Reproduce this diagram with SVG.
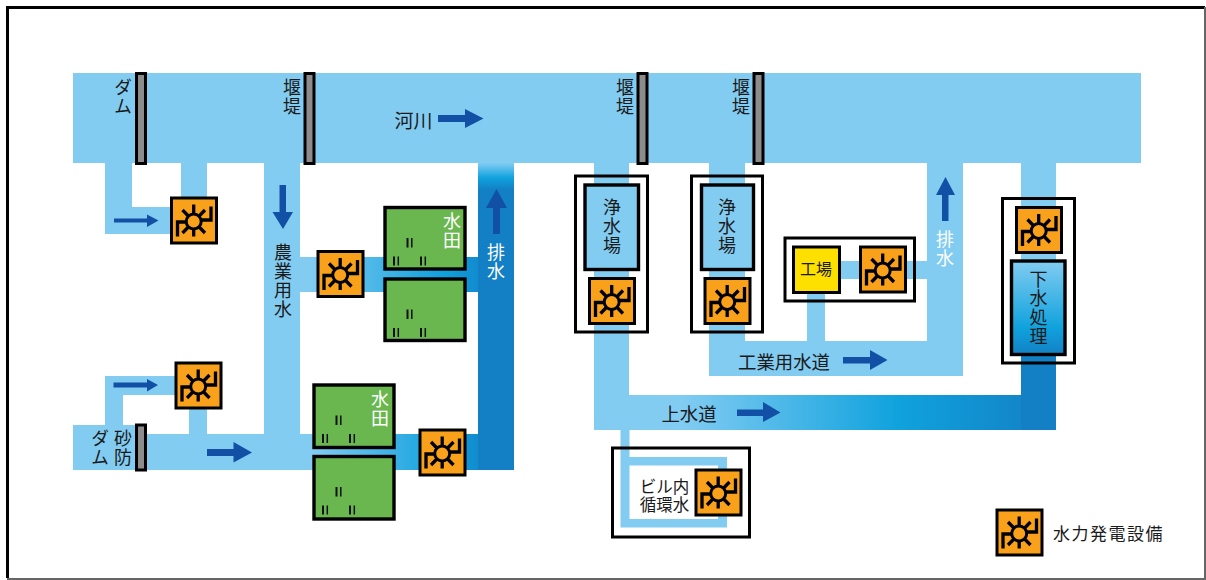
<svg xmlns="http://www.w3.org/2000/svg" width="1206" height="580" viewBox="0 0 1206 580">
<style>
.w{fill:#82ccf2}
.t{font-family:"Noto Sans CJK JP","Noto Sans",sans-serif;font-size:18px;fill:#1a1a1a;text-anchor:middle;dominant-baseline:central}
.v{font-family:"Noto Sans CJK JP","Noto Sans",sans-serif;font-size:18px;fill:#1a1a1a;writing-mode:vertical-rl;text-anchor:middle;letter-spacing:1px}
.wt{fill:#fff}
.a{fill:#1150a4}
.p{fill:#6ab750;stroke:#000;stroke-width:3.400}
.g{fill:#8c8c8c;stroke:#000;stroke-width:3}
</style>
<defs>
<linearGradient id="g1" gradientUnits="userSpaceOnUse" x1="300" y1="0" x2="500" y2="0"><stop offset=".05" stop-color="#82ccf2"/><stop offset=".72" stop-color="#10a0dd"/><stop offset="1" stop-color="#137fc4"/></linearGradient>
<linearGradient id="g2" gradientUnits="userSpaceOnUse" x1="0" y1="163" x2="0" y2="190"><stop offset="0" stop-color="#82ccf2"/><stop offset=".55" stop-color="#10a2dd"/><stop offset="1" stop-color="#137fc4"/></linearGradient>
<linearGradient id="g3" gradientUnits="userSpaceOnUse" x1="680" y1="0" x2="1056" y2="0"><stop offset="0" stop-color="#82ccf2"/><stop offset=".58" stop-color="#10a2dd"/><stop offset="1" stop-color="#137fc4"/></linearGradient>
<linearGradient id="g4" gradientUnits="userSpaceOnUse" x1="0" y1="261" x2="0" y2="356"><stop offset="0" stop-color="#82ccf2"/><stop offset=".7" stop-color="#10a2dd"/><stop offset="1" stop-color="#137fc4"/></linearGradient>
<symbol id="tb" viewBox="0 0 48 48" width="48" height="48" overflow="visible">
<rect x="1.500" y="1.500" width="45" height="45" fill="#f9a11b" stroke="#000" stroke-width="3"/>
<g stroke="#000" stroke-width="3.300" fill="none">
<path d="M23.700 8V40M12.500 13.500L35 36.500M35 13.500L12.500 36.500"/>
<path d="M7.500 40V25.500H16M41 10V23.500H31"/>
<circle cx="23.700" cy="25" r="7.500" fill="#f9a11b" stroke-width="3"/>
</g>
</symbol>
<g id="gr" fill="none" stroke="#111"><path d="M24 32.500V42M10.500 51V60M37.500 51V60" stroke-width="2"/><path d="M28.300 32.500V42M14.800 51V60M41.800 51V60" stroke-width="1.500"/></g>
</defs>
<rect width="1206" height="580" fill="#fff"/>
<path d="M7.500 578V7.500H1205" fill="none" stroke="#000" stroke-width="3"/>
<path d="M1205 7V579H7" fill="none" stroke="#666" stroke-width="2"/>

<g id="connectors">
<rect class="w" x="73" y="73" width="1068" height="90"/>
<path class="w" d="M105 163H132V207H181V163H207V200H180V234H105Z"/>
<rect class="w" x="264" y="163" width="36" height="307"/>
<path class="w" d="M105 425V376H180V395H123V425ZM189 405H207V440H189Z"/>
<path class="w" d="M73 425H140V434H300V470H73Z"/>
<rect x="300" y="257" width="178" height="35" fill="url(#g1)"/>
<rect x="300" y="434" width="178" height="36" fill="url(#g1)"/>
<rect x="478" y="163" width="36" height="307" fill="url(#g2)"/>
<rect class="w" x="594" y="163" width="35" height="240"/>
<rect x="594" y="395" width="462" height="35" fill="url(#g3)"/>
<rect class="w" x="1021" y="163" width="35" height="100"/>
<rect x="1021" y="356" width="35" height="74" fill="#137fc4"/>
<path class="w" d="M709 163H745V341H927V163H963V376H709Z"/>
<rect class="w" x="840" y="261" width="87" height="18"/>
<rect class="w" x="807" y="293" width="18" height="48"/>
<g id="arrows">
<path class="a" d="M114 218.500H147V214.500L158.500 220.500L147 227V222.500H114Z"/>
<path class="a" d="M113.500 382.500H147V379L158 385L147 391.500V387.500H113.500Z"/>
<path class="a" d="M207 449H233.500V442L252 452.500L233.500 462.500V456H207Z"/>
<path class="a" d="M279.500 185H286V212H293L283 229L272.500 212H279.500Z"/>
<path class="a" d="M493 234V208H486L496.500 189L507 208H500V234Z"/>
<path class="a" d="M942 221V195H936L945.500 177L955 195H948.500V221Z"/>
<path class="a" d="M438 115H465V109L483.500 118.500L465 128V122H438Z"/>
<path class="a" d="M843 357H870V350L887.500 360L870 370V363.500H843Z"/>
<path class="a" d="M737 409.500H763V402L780.500 412.500L763 422V416H737Z"/>
</g>
</g>

<g id="dam1"><rect class="g" x="136.500" y="73.500" width="9" height="90"/><text class="v" x="123" y="97">ダム</text></g>
<g id="weir1"><rect class="g" x="305" y="73.500" width="9" height="90"/><text class="v" x="292" y="97">堰堤</text></g>
<g id="weir2"><rect class="g" x="638" y="73.500" width="9" height="90"/><text class="v" x="625" y="97">堰堤</text></g>
<g id="weir3"><rect class="g" x="754" y="73.500" width="9" height="90"/><text class="v" x="741" y="97">堰堤</text></g>
<g id="sabo"><rect class="g" x="136.500" y="425" width="9" height="45"/><text class="v" x="123" y="448">砂防</text><text class="v" x="100" y="448">ダム</text></g>
<g id="river-label"><text class="t" x="413.500" y="119" style="font-size:19px">河川</text></g>
<g id="agri-label"><text class="v" x="283" y="281">農業用水</text></g>
<g id="drain1-label"><text class="v wt" x="496" y="262">排水</text></g>
<g id="drain2-label"><text class="v wt" x="945" y="249.500">排水</text></g>

<g id="turbine-a"><use href="#tb" x="170" y="196.500"/></g>
<g id="turbine-b"><use href="#tb" x="174.500" y="361.500"/></g>
<g id="turbine-c"><use href="#tb" x="316.500" y="250"/></g>
<g id="turbine-d"><use href="#tb" x="418.500" y="428.500"/></g>

<g id="paddy1"><rect class="p" x="385" y="207.500" width="80" height="61.500"/><use href="#gr" x="383.500" y="205.500"/><text class="v wt" x="452" y="231">水田</text></g>
<g id="paddy2"><rect class="p" x="385" y="279" width="80" height="61.500"/><use href="#gr" x="383.500" y="277"/></g>
<g id="paddy3"><rect class="p" x="314" y="385" width="80" height="62.500"/><use href="#gr" x="312.500" y="383"/><text class="v wt" x="380" y="409">水田</text></g>
<g id="paddy4"><rect class="p" x="314" y="456.500" width="80" height="62.500"/><use href="#gr" x="312.500" y="454.500"/></g>

<g id="plant1"><rect x="575.500" y="176" width="72" height="156" fill="none" stroke="#000" stroke-width="3"/><rect class="w" x="585" y="185" width="53.500" height="84.500" stroke="#000" stroke-width="3.400"/><text class="v" x="612" y="227">浄水場</text><use href="#tb" x="588" y="277"/></g>
<g id="plant2"><rect x="691.500" y="176" width="71" height="156" fill="none" stroke="#000" stroke-width="3"/><rect class="w" x="701.500" y="185" width="52" height="84.500" stroke="#000" stroke-width="3.400"/><text class="v" x="727" y="227">浄水場</text><use href="#tb" x="703.500" y="277"/></g>

<g id="factory"><rect x="785" y="238" width="129.500" height="63" fill="none" stroke="#000" stroke-width="3"/><rect x="793.500" y="247" width="46" height="45.500" fill="#fee000" stroke="#000" stroke-width="3"/><text class="t" x="816" y="268" style="font-size:16px">工場</text><use href="#tb" x="859" y="245.500"/></g>

<g id="sewage"><rect x="1002.500" y="198.500" width="72" height="164.500" fill="none" stroke="#000" stroke-width="3"/><use href="#tb" x="1015" y="206"/><rect x="1011.500" y="261" width="53.500" height="93.500" fill="url(#g4)" stroke="#000" stroke-width="3.400"/><text class="v" x="1038.500" y="308">下水処理</text></g>

<g id="building"><path class="w" d="M620.500 430H629.500V457H727V527.500H620.500ZM629.500 465.500V519H718V465.500Z" fill-rule="evenodd"/><rect x="612.500" y="448" width="137" height="89" fill="none" stroke="#000" stroke-width="3"/><text class="t" x="664.500" y="495" style="font-size:16.500px"><tspan x="664.500" dy="-9">ビル内</tspan><tspan x="664.500" dy="18">循環水</tspan></text><use href="#tb" x="694.500" y="468.500"/></g>

<g id="industrial-label"><text class="t" x="784" y="361" style="font-size:18.400px">工業用水道</text></g>
<g id="tap-label"><text class="t" x="689" y="412.500" style="font-size:18.400px">上水道</text></g>
<g id="legend"><use href="#tb" x="995.500" y="508.500"/><text class="t" x="1108.500" y="532" style="font-size:17px;letter-spacing:1.500px">水力発電設備</text></g>
</svg>
